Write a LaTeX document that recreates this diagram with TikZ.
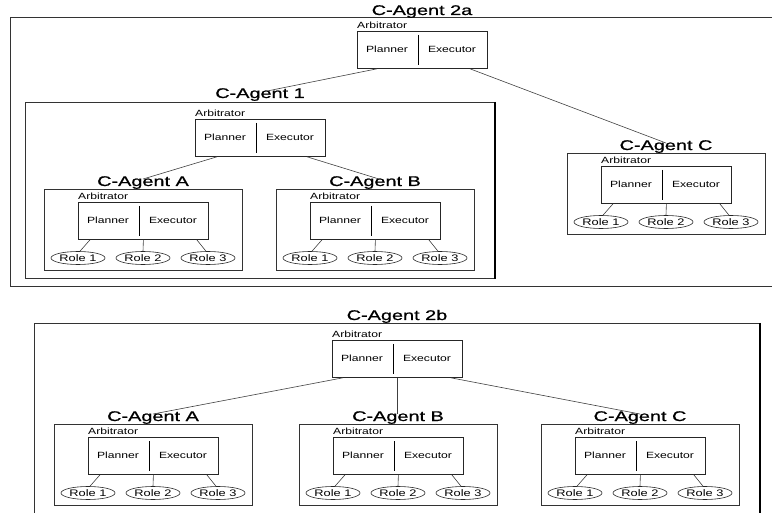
\documentclass[tikz,border=0pt]{standalone}
\usepackage{fontspec}
\setmainfont{Liberation Sans}
\newfontfamily\ttlfont[FakeStretch=1.42,FakeBold=0.9]{Liberation Sans}
\newfontfamily\smlfont[FakeStretch=1.35]{Liberation Sans}
\usetikzlibrary{shapes.geometric}

\tikzset{
  frame/.style={draw=black!80, line width=0.9pt, fill=none},
  ttl/.style={font=\ttlfont\fontsize{14}{14}\selectfont, inner sep=0pt, anchor=base},
  lbl/.style={font=\smlfont\fontsize{9}{9}\selectfont, inner sep=0pt},
  arbbox/.style={draw=black!85, line width=0.8pt, minimum width=130pt, minimum height=37pt, anchor=north west, inner sep=0pt},
  divider/.style={draw=black, line width=1pt},
  role/.style={ellipse, draw=black!85, line width=0.6pt, minimum width=54pt, minimum height=13pt, inner sep=0pt, font=\smlfont\fontsize{9.5}{9.5}\selectfont},
  link/.style={draw=black!75, line width=0.6pt},
  shadowedge/.style={draw=black, line width=1.6pt}
}

% name, L, T
\newcommand{\ArbUnit}[3]{%
  \node[lbl, anchor=base west] (#1lab) at (#2, #3-2.5) {Arbitrator};
  \node[arbbox] (#1) at (#2,#3) {};
  \draw[divider] ([xshift=61pt,yshift=-4pt]#1.north west) -- ([xshift=61pt,yshift=4pt]#1.south west);
  \node[lbl] (#1pl) at (#2+30, #3+18.5) {Planner};
  \node[lbl] (#1ex) at (#2+95, #3+18.5) {Executor};
}

% name, L, T, title
\newcommand{\SubAgent}[4]{%
  \node[frame, anchor=north west, minimum width=198pt, minimum height=81pt, inner sep=0pt] (#1box) at (#2-34, #3-13) {};
  \node[ttl] (#1t) at (#2+65, #3-16) {#4};
  \ArbUnit{#1}{#2}{#3}
  \node[role] (#1r1) at (#2, #3+56) {Role 1};
  \node[role] (#1r2) at (#2+65, #3+56) {Role 2};
  \node[role] (#1r3) at (#2+130, #3+56) {Role 3};
  \draw[link] ([xshift=12pt]#1.south west) -- ([xshift=2pt]#1r1.north);
  \draw[link] (#1.south) -- (#1r2.north);
  \draw[link] ([xshift=-12pt]#1.south east) -- ([xshift=-2pt]#1r3.north);
}

\begin{document}
\begin{tikzpicture}[x=1pt,y=-1pt]
\useasboundingbox (0,0) rectangle (772,513);
\clip (0,0) rectangle (772,513);

% ---------- C-Agent 2a ----------
\node[frame, anchor=north west, minimum width=824pt, minimum height=269pt, inner sep=0pt] (box2a) at (10,17) {};
\node[ttl] (t2a) at (422,15) {C-Agent 2a};
\ArbUnit{a2a}{357}{31}

\node[frame, anchor=north west, minimum width=469pt, minimum height=176pt, inner sep=0pt] (box1) at (25,102) {};
\draw[shadowedge] (box1.north east) -- (box1.south east);
\node[ttl] (t1) at (260,98) {C-Agent 1};
\ArbUnit{a1}{195}{119}

\SubAgent{sA}{78}{202}{C-Agent A}
\SubAgent{sB}{310}{202}{C-Agent B}
\SubAgent{sC}{601}{166}{C-Agent C}

\draw[link] ([xshift=20pt]a2a.south west) -- ([xshift=7pt,yshift=-3pt]t1.north);
\draw[link] ([xshift=113pt]a2a.south west) -- ([yshift=-3pt]sCt.north);
\draw[link] ([xshift=22pt]a1.south west) -- ([yshift=-3pt]sAt.north);
\draw[link] ([xshift=112pt]a1.south west) -- ([xshift=4pt,yshift=-3pt]sBt.north);

% ---------- C-Agent 2b ----------
\node[frame, anchor=north west, minimum width=725pt, minimum height=230pt, inner sep=0pt] (box2b) at (34,323) {};
\draw[shadowedge] (box2b.north east) -- (box2b.south east);
\node[ttl] (t2b) at (397,320) {C-Agent 2b};
\ArbUnit{a2b}{332}{340}

\SubAgent{bA}{88}{437}{C-Agent A}
\SubAgent{bB}{333}{437}{C-Agent B}
\SubAgent{bC}{575}{437}{C-Agent C}

\draw[link] ([xshift=11pt]a2b.south west) -- ([yshift=-3pt]bAt.north);
\draw[link] (a2b.south) -- ([yshift=-3pt]a2b.south |- bBt.north);
\draw[link] ([xshift=-12pt]a2b.south east) -- ([yshift=-3pt]bCt.north);
\end{tikzpicture}
\end{document}
